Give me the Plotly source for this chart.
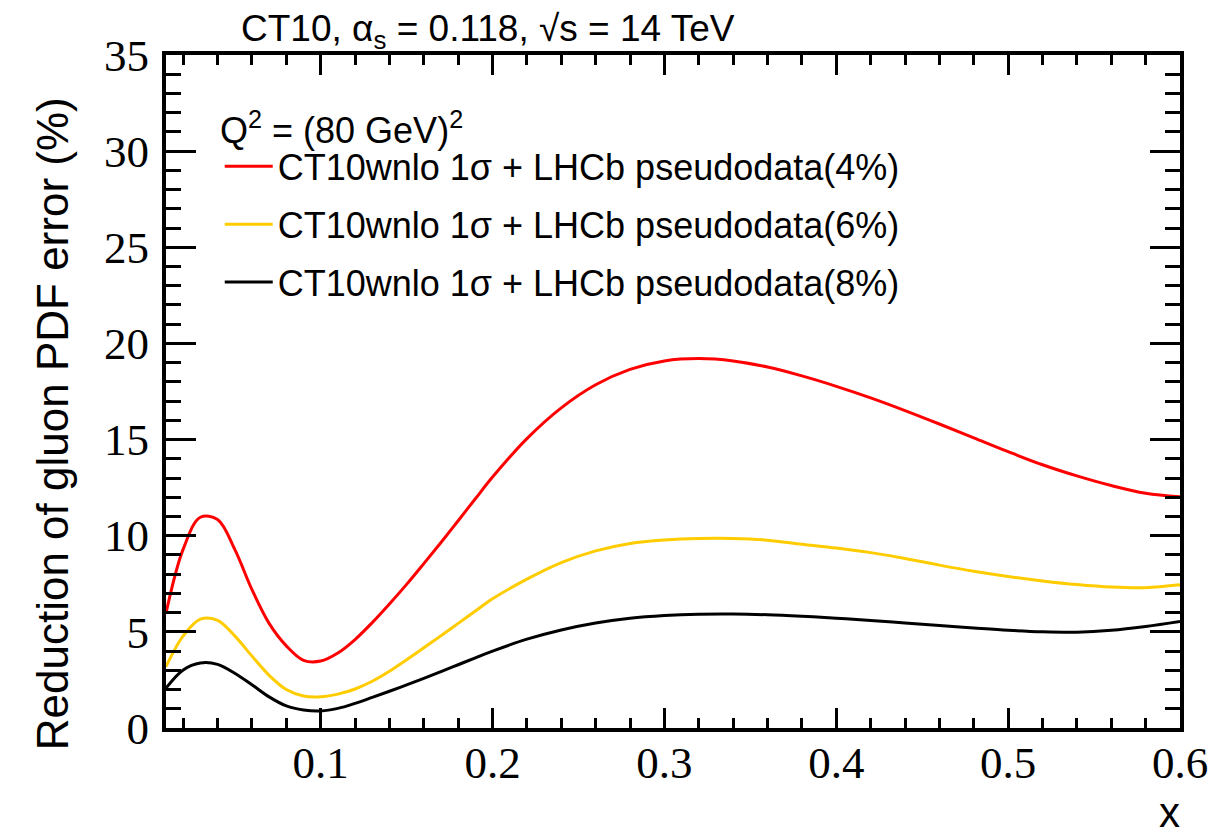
import plotly.graph_objects as go

# ---- data ----
x_vals = [0.01, 0.02, 0.03, 0.04, 0.05, 0.06, 0.07, 0.08, 0.09, 0.10,
          0.11, 0.12, 0.13, 0.14, 0.15, 0.16, 0.17, 0.18, 0.19, 0.20,
          0.22, 0.24, 0.26, 0.28, 0.30, 0.32, 0.34, 0.36, 0.38, 0.40,
          0.42, 0.44, 0.46, 0.48, 0.50, 0.52, 0.54, 0.56, 0.58, 0.60]

y_red = [5.97, 9.30, 10.96, 10.84, 9.29, 7.20, 5.44, 4.27, 3.52, 3.48,
         3.90, 4.60, 5.48, 6.45, 7.47, 8.55, 9.65, 10.78, 11.92, 13.05,
         15.05, 16.65, 17.85, 18.65, 19.09, 19.21, 19.09, 18.77, 18.31, 17.77,
         17.17, 16.51, 15.81, 15.09, 14.37, 13.69, 13.11, 12.61, 12.21, 12.02]

y_yel = [3.19, 4.79, 5.66, 5.60, 4.79, 3.74, 2.74, 2.00, 1.66, 1.62,
         1.76, 2.03, 2.43, 2.95, 3.55, 4.17, 4.80, 5.44, 6.08, 6.72,
         7.74, 8.60, 9.21, 9.60, 9.78, 9.86, 9.86, 9.77, 9.56, 9.36,
         9.12, 8.82, 8.47, 8.15, 7.88, 7.65, 7.46, 7.33, 7.30, 7.45]

y_blk = [2.07, 3.02, 3.38, 3.31, 2.85, 2.25, 1.62, 1.15, 0.94, 0.89,
         1.02, 1.28, 1.59, 1.91, 2.24, 2.58, 2.93, 3.29, 3.65, 4.00,
         4.62, 5.10, 5.46, 5.71, 5.85, 5.92, 5.93, 5.89, 5.81, 5.71,
         5.59, 5.46, 5.33, 5.20, 5.08, 5.00, 4.98, 5.08, 5.28, 5.54]

series_names = ["CT10wnlo 1σ + LHCb pseudodata(4%)",
                "CT10wnlo 1σ + LHCb pseudodata(6%)",
                "CT10wnlo 1σ + LHCb pseudodata(8%)"]
series_colors = ["#ff0000", "#ffcc00", "#000000"]

x_tickvals = [0.1, 0.2, 0.3, 0.4, 0.5, 0.6]
x_ticktext = ["0.1", "0.2", "0.3", "0.4", "0.5", "0.6"]
y_tickvals = [0, 5, 10, 15, 20, 25, 30, 35]
y_ticktext = ["0", "5", "10", "15", "20", "25", "30", "35"]

fig = go.Figure()
for i, ys in enumerate([y_red, y_yel, y_blk]):
    fig.add_trace(go.Scatter(
        x=x_vals, y=ys, mode="lines", name=series_names[i],
        legendgroup=f"g{i}",
        line=dict(color=series_colors[i], width=3, shape="spline", smoothing=1.0),
    ))

SANS = "Liberation Sans, Arial, sans-serif"
SERIF = "Liberation Serif, Times New Roman, serif"

axis_common = dict(
    showgrid=False, zeroline=False, showline=True, linecolor="black", linewidth=4,
    mirror="ticks", ticks="inside", tickcolor="black", tickwidth=3,
    tickfont=dict(family=SERIF, size=45, color="black"),
)

fig.update_xaxes(range=[0.01, 0.6], tickvals=x_tickvals, ticktext=x_ticktext,
                 ticklen=20, ticklabelstandoff=-8,
                 minor=dict(dtick=0.02, tick0=0, ticks="inside", ticklen=10,
                            tickwidth=3, tickcolor="black"),
                 **axis_common)
fig.update_yaxes(range=[0, 35], tickvals=y_tickvals, ticktext=y_ticktext,
                 ticklen=30, ticklabelstandoff=4,
                 minor=dict(dtick=1, tick0=0, ticks="inside", ticklen=15,
                            tickwidth=3, tickcolor="black"),
                 **axis_common)

# the page body adds an 8px margin, so the figure is drawn 8px in from the corner
fig.update_layout(
    width=1212, height=824,
    margin=dict(l=158, r=37, t=47, b=104),
    paper_bgcolor="white", plot_bgcolor="white",
    showlegend=True,
    legend=dict(x=0.053, y=0.879, xanchor="left", yanchor="top",
                bgcolor="rgba(0,0,0,0)", tracegroupgap=8, itemwidth=48,
                font=dict(family=SANS, size=36, color="black")),
    annotations=[
        dict(text="CT10, α<sub>s</sub> = 0.118, √s = 14 TeV", xref="paper", yref="paper",
             x=0.3176, y=1.035, xanchor="center", yanchor="middle", showarrow=False,
             font=dict(family=SANS, size=37, color="black")),
        dict(text="Q<sup>2</sup> = (80 GeV)<sup>2</sup>", xref="paper", yref="paper",
             x=0.051, y=0.892, xanchor="left", yanchor="middle", showarrow=False,
             font=dict(family=SANS, size=36, color="black")),
        dict(text="Reduction of gluon PDF error (%)", xref="paper", yref="paper",
             x=-0.112, y=0.452, xanchor="center", yanchor="middle", showarrow=False,
             textangle=-90, font=dict(family=SANS, size=44, color="black")),
        dict(text="x", xref="paper", yref="paper",
             x=0.990, y=-0.125, xanchor="center", yanchor="middle", showarrow=False,
             font=dict(family=SANS, size=42, color="black")),
    ],
)

fig.write_html("out.html")
